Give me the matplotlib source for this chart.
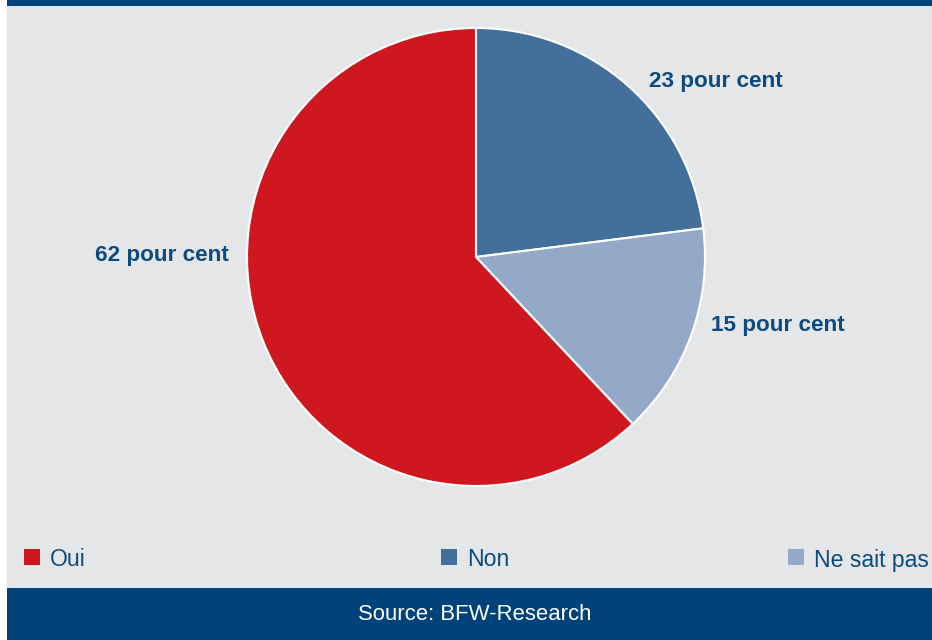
import matplotlib
matplotlib.use("Agg")
import matplotlib.pyplot as plt
from matplotlib.patches import Rectangle

categories = ["Oui", "Non", "Ne sait pas"]
values = [62, 23, 15]
colors = ["#cf1720", "#436f9b", "#93a9c7"]
labels = ["62 pour cent", "23 pour cent", "15 pour cent"]
source = "Source: BFW-Research"

W, H = 932, 640
fig = plt.figure(figsize=(W / 100, H / 100), dpi=100)
fig.patch.set_facecolor("white")

def fx(px):
    return px / W

def fy(py):
    return 1 - py / H

# background panels
for (x0, y0, w, h, c) in [(7, 588, W - 7, 582, "#e5e6e8"),
                          (7, 6, W - 7, 6, "#00427a"),
                          (7, 640, W - 7, 52, "#00427a")]:
    fig.patches.append(Rectangle((fx(x0), fy(y0)), w / W, h / H, transform=fig.transFigure,
                                 facecolor=c, edgecolor="none", zorder=-10))

# pie axes
cx, cy, r = 476, 257, 229
ax = fig.add_axes([fx(cx - r), fy(cy + r), 2 * r / W, 2 * r / H])
ax.set_zorder(5)
ax.set_facecolor("none")
order = [1, 2, 0]
ax.pie([values[i] for i in order], colors=[colors[i] for i in order], startangle=90,
       counterclock=False, radius=1,
       wedgeprops=dict(edgecolor="white", linewidth=1.5))
ax.set_xlim(-1.0, 1.0)
ax.set_ylim(-1.0, 1.0)
ax.set_aspect("equal")
ax.axis("off")

font = "Liberation Sans"
lab_color = "#0d4a80"
label_pos = [(162, 256), (716, 82), (778, 325)]
for txt, (x, y) in zip(labels, label_pos):
    fig.text(fx(x), fy(y), txt, ha="center", va="center", fontsize=16.2, fontweight="bold",
             color=lab_color, family=font, zorder=10)

# legend
leg_pos = [24, 441, 788]
for cat, col, x in zip(categories, colors, leg_pos):
    fig.patches.append(Rectangle((fx(x), fy(565)), 16 / W, 16 / H, transform=fig.transFigure,
                                 facecolor=col, edgecolor="none", zorder=10))
    fig.text(fx(x + 26), fy(560), cat, ha="left", va="center", fontsize=16.6,
             color=lab_color, family=font, zorder=10)

fig.text(fx(475), fy(615), source, ha="center", va="center", fontsize=15.9,
         color="white", family=font, zorder=10)

fig.savefig("out.png", dpi=100, facecolor=fig.get_facecolor())
